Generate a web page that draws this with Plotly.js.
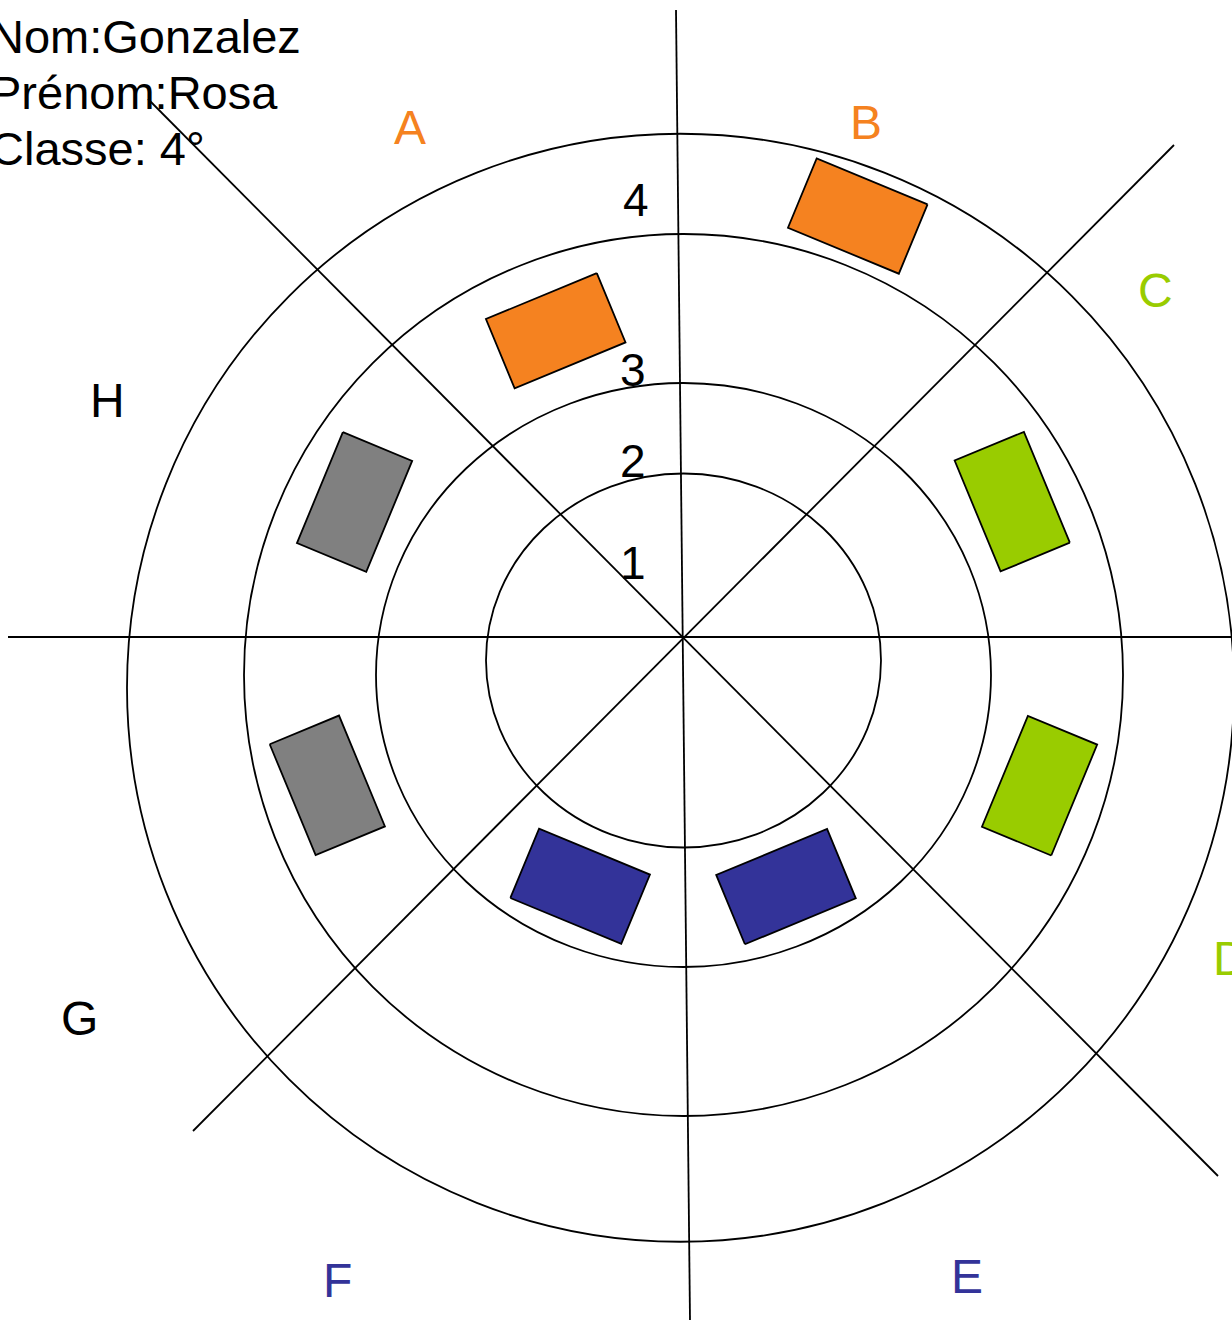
<!DOCTYPE html>
<html><head><meta charset="utf-8">
<script src="https://cdn.plot.ly/plotly-3.0.1.min.js"></script>
<style>html,body{margin:0;padding:0;background:#fff;overflow:hidden}</style>
</head><body><div id="chart" style="width:1232px;height:1320px"></div>
<script>
// ---------------- data ----------------
const sectors = ['A', 'B', 'C', 'D', 'E', 'F', 'G', 'H'];
const levels = [3, 4, 3, 3, 2, 2, 3, 3];
const groups = ['orange', 'orange', 'green', 'green', 'blue', 'blue', 'gray', 'gray'];
const levelLabels = ['1', '2', '3', '4'];
const headerLines = ['Nom:Gonzalez', 'Prénom:Rosa', 'Classe: 4°'];

// ---------------- layout / style ----------------
const W = 1232, H = 1320;
const hub = {x: 683, y: 638};
const rings = [
  {cx: 683.5, cy: 660.5, rx: 197.5, ry: 187},
  {cx: 683.5, cy: 675, rx: 307.5, ry: 292},
  {cx: 683.5, cy: 675, rx: 439.5, ry: 441},
  {cx: 680.5, cy: 687.75, rx: 553.5, ry: 554}
];
const spokes = [[676, 10, 690, 1320], [8, 637, 1232, 637], [148, 99, 1218, 1176], [1174, 145, 193, 1131]];
const palette = {orange: '#F58220', green: '#99CC00', blue: '#333399', gray: '#808080'};
const letterColor = {orange: '#F58220', green: '#99CC00', blue: '#333399', gray: '#000000'};
const letterPos = {A: [410, 127], B: [866, 122], C: [1155, 290], D: [1230, 958], E: [967, 1276], F: [337, 1280], G: [79, 1018], H: [107, 400]};
const levelLabelPos = [[633, 563], [633, 461], [633, 370], [636, 200]];
const headerPos = {x: 0, xshift: -12, y0: 36, dy: 56};
const rectLen = 120, rectWid = 75;
const FONT = 'Liberation Sans, Arial, sans-serif';
const LW = 1.8;

// distance along a ray from hub to ring ellipse
function rayToRing(ring, ux, uy) {
  const px = hub.x - ring.cx, py = hub.y - ring.cy;
  const a = ux * ux / (ring.rx * ring.rx) + uy * uy / (ring.ry * ring.ry);
  const b = 2 * (px * ux / (ring.rx * ring.rx) + py * uy / (ring.ry * ring.ry));
  const c = px * px / (ring.rx * ring.rx) + py * py / (ring.ry * ring.ry) - 1;
  return (-b + Math.sqrt(b * b - 4 * a * c)) / (2 * a);
}

const traces = [];
sectors.forEach((s, i) => {
  const ang = (112.5 - 45 * i) * Math.PI / 180;
  const ux = Math.cos(ang), uy = -Math.sin(ang); // screen direction (y down)
  const L = levels[i];
  const rIn = L === 1 ? 0 : rayToRing(rings[L - 2], ux, uy);
  const rOut = rayToRing(rings[L - 1], ux, uy);
  const rm = (rIn + rOut) / 2;
  const cx = hub.x + ux * rm, cy = hub.y + uy * rm;
  const vx = -uy, vy = ux; // tangent
  const hw = rectWid / 2, hl = rectLen / 2;
  const xs = [], ys = [];
  [[1, 1], [1, -1], [-1, -1], [-1, 1], [1, 1]].forEach(([a, b]) => {
    xs.push(cx + ux * hw * a + vx * hl * b);
    ys.push(cy + uy * hw * a + vy * hl * b);
  });
  traces.push({
    type: 'scatter', mode: 'lines', x: xs, y: ys, fill: 'toself',
    fillcolor: palette[groups[i]], line: {color: '#000', width: LW},
    hoverinfo: 'text', text: s + ' : ' + L, showlegend: false
  });
});

const shapes = [];
rings.forEach(r => shapes.push({
  type: 'circle', xref: 'x', yref: 'y', layer: 'below',
  x0: r.cx - r.rx, x1: r.cx + r.rx, y0: r.cy - r.ry, y1: r.cy + r.ry,
  line: {color: '#000', width: LW}
}));
spokes.forEach(p => shapes.push({
  type: 'line', xref: 'x', yref: 'y', layer: 'below',
  x0: p[0], y0: p[1], x1: p[2], y1: p[3], line: {color: '#000', width: LW}
}));

const annotations = [];
sectors.forEach((s, i) => annotations.push({
  x: letterPos[s][0], y: letterPos[s][1], xref: 'x', yref: 'y', text: s, showarrow: false,
  xanchor: 'center', yanchor: 'middle', font: {family: FONT, size: 48, color: letterColor[groups[i]]}
}));
levelLabels.forEach((t, i) => annotations.push({
  x: levelLabelPos[i][0], y: levelLabelPos[i][1], xref: 'x', yref: 'y', text: t, showarrow: false,
  xanchor: 'center', yanchor: 'middle', font: {family: FONT, size: 46, color: '#000'}
}));
headerLines.forEach((t, i) => annotations.push({
  x: headerPos.x, xshift: headerPos.xshift, y: headerPos.y0 + i * headerPos.dy, xref: 'x', yref: 'y',
  text: t, showarrow: false, xanchor: 'left', yanchor: 'middle',
  font: {family: FONT, size: 47, color: '#000'}
}));

const layout = {
  width: W, height: H, margin: {l: 0, r: 0, t: 0, b: 0},
  paper_bgcolor: '#fff', plot_bgcolor: '#fff', showlegend: false,
  xaxis: {range: [0, W], visible: false, fixedrange: true},
  yaxis: {range: [H, 0], visible: false, fixedrange: true},
  shapes: shapes, annotations: annotations
};
Plotly.newPlot('chart', traces, layout, {staticPlot: true, displayModeBar: false});
</script></body></html>
